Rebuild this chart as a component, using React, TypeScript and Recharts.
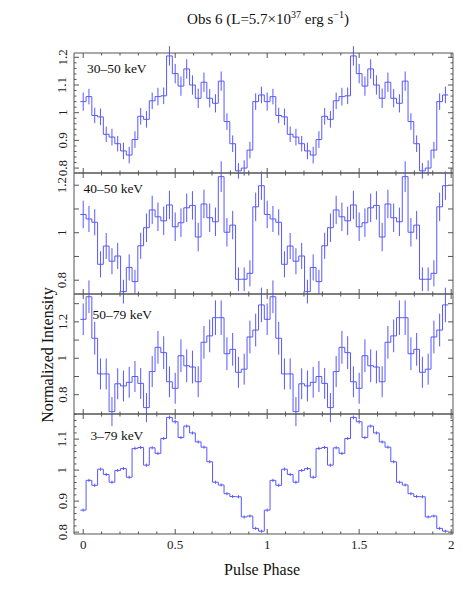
import React from 'react';
import { ComposedChart, Line, ErrorBar, XAxis, YAxis } from 'recharts';

// phase bin centres of one pulse cycle (32 bins), the profile is shown twice
const binCenters = [
  0, 0.03125, 0.0625, 0.09375, 0.125, 0.15625, 0.1875, 0.21875,
  0.25, 0.28125, 0.3125, 0.34375, 0.375, 0.40625, 0.4375, 0.46875,
  0.5, 0.53125, 0.5625, 0.59375, 0.625, 0.65625, 0.6875, 0.71875,
  0.75, 0.78125, 0.8125, 0.84375, 0.875, 0.90625, 0.9375, 0.96875,
];
const binHalf = 0.015625;

const band30to50 = [
  1.04, 1.058, 0.99, 0.985, 0.922, 0.912, 0.888, 0.862, 0.847, 0.903, 0.987, 0.976,
  1.043, 1.058, 1.061, 1.205, 1.141, 1.096, 1.158, 1.1, 1.052, 1.11, 1.052, 1.034,
  1.114, 0.968, 0.888, 0.79, 0.8, 0.865, 1.04, 1.064,
];
const err30to50 = [
  0.033, 0.028, 0.028, 0.03, 0.028, 0.03, 0.028, 0.03, 0.03, 0.03, 0.03, 0.03,
  0.03, 0.032, 0.03, 0.035, 0.035, 0.035, 0.035, 0.035, 0.035, 0.035, 0.033, 0.033,
  0.035, 0.03, 0.03, 0.028, 0.028, 0.03, 0.03, 0.03,
];

const band40to50 = [
  1.077, 1.058, 1.044, 0.867, 0.944, 0.88, 0.902, 0.752, 0.854, 0.794, 0.945, 1.021,
  1.096, 1.067, 1.05, 1.117, 1.025, 1.042, 1.105, 1.115, 0.982, 1.121, 1.063, 1.046,
  1.236, 1.002, 1.032, 0.804, 0.804, 0.829, 1.109, 1.198,
];
const err40to50 = [
  0.058, 0.055, 0.055, 0.055, 0.055, 0.055, 0.055, 0.05, 0.055, 0.05, 0.055, 0.06,
  0.06, 0.06, 0.06, 0.06, 0.06, 0.06, 0.06, 0.06, 0.06, 0.06, 0.06, 0.06,
  0.065, 0.06, 0.06, 0.05, 0.05, 0.055, 0.06, 0.06,
];

const band50to79 = [
  1.214, 1.338, 1.11, 0.914, 0.914, 0.707, 0.86, 0.848, 0.868, 0.9, 0.862, 0.729,
  0.927, 1.06, 1.031, 0.871, 0.835, 1.014, 0.959, 0.952, 0.871, 1.088, 1.123, 1.223,
  1.223, 1.025, 1.049, 0.923, 0.94, 1.117, 1.155, 1.293,
];
const err50to79 = [
  0.087, 0.09, 0.09, 0.085, 0.085, 0.08, 0.085, 0.085, 0.085, 0.085, 0.085, 0.08,
  0.085, 0.09, 0.09, 0.085, 0.085, 0.09, 0.09, 0.09, 0.085, 0.09, 0.09, 0.095,
  0.095, 0.09, 0.09, 0.085, 0.085, 0.09, 0.09, 0.095,
];

const band3to79 = [
  0.871, 0.967, 0.951, 1.003, 0.986, 0.961, 0.999, 1.005, 0.977, 1.07, 1.073, 1.016,
  1.072, 1.054, 1.102, 1.17, 1.156, 1.105, 1.142, 1.12, 1.091, 1.074, 1.027, 0.961,
  0.952, 0.924, 0.915, 0.914, 0.849, 0.852, 0.812, 0.803,
];
const err3to79 = [
  0.005, 0.005, 0.005, 0.005, 0.005, 0.005, 0.005, 0.005, 0.005, 0.005, 0.005, 0.005,
  0.005, 0.005, 0.005, 0.006, 0.006, 0.005, 0.005, 0.005, 0.005, 0.005, 0.005, 0.005,
  0.005, 0.005, 0.005, 0.005, 0.005, 0.005, 0.005, 0.005,
];

const xMajorTicks = [0, 0.5, 1, 1.5, 2];
const xMinorTicks = [
  0, 0.1, 0.2, 0.3, 0.4, 0.5, 0.6, 0.7, 0.8, 0.9, 1,
  1.1, 1.2, 1.3, 1.4, 1.5, 1.6, 1.7, 1.8, 1.9, 2,
];

const FONT = '"Liberation Serif", "Times New Roman", serif';
const FRAME = '#555';
const BLUE = '#5858ff';
const X_DOMAIN: [number, number] = [-0.05, 2.01];

const panels = [
  {
    label: '30–50 keV', labelX: 87, labelY: 73,
    values: band30to50, errors: err30to50,
    top: 53, bottom: 173, domain: [0.7823, 1.2155],
    ticks: [0.8, 0.82, 0.84, 0.86, 0.88, 0.9, 0.92, 0.94, 0.96, 0.98, 1, 1.02, 1.04, 1.06, 1.08, 1.1, 1.12, 1.14, 1.16, 1.18, 1.2],
    majors: [0.8, 0.9, 1, 1.1, 1.2], labels: [0.8, 0.9, 1, 1.1, 1.2],
  },
  {
    label: '40–50 keV', labelX: 83.5, labelY: 193,
    values: band40to50, errors: err40to50,
    top: 173, bottom: 294, domain: [0.742, 1.2514],
    ticks: [0.8, 0.9, 1, 1.1, 1.2],
    majors: [0.8, 0.9, 1, 1.1, 1.2], labels: [0.8, 1, 1.2],
  },
  {
    label: '50–79 keV', labelX: 92.5, labelY: 319,
    values: band50to79, errors: err50to79,
    top: 294, bottom: 414, domain: [0.694, 1.353],
    ticks: [0.8, 0.9, 1, 1.1, 1.2, 1.3],
    majors: [0.8, 0.9, 1, 1.1, 1.2, 1.3], labels: [0.8, 1, 1.2],
  },
  {
    label: '3–79 keV', labelX: 90.5, labelY: 440,
    values: band3to79, errors: err3to79,
    top: 414, bottom: 534, domain: [0.794, 1.181],
    ticks: [0.8, 0.82, 0.84, 0.86, 0.88, 0.9, 0.92, 0.94, 0.96, 0.98, 1, 1.02, 1.04, 1.06, 1.08, 1.1, 1.12, 1.14, 1.16, 1.18],
    majors: [0.8, 0.9, 1, 1.1], labels: [0.8, 0.9, 1, 1.1],
  },
];

const has = (list: number[], v: number) => list.some((m) => Math.abs(m - v) < 1e-6);

function stepData(values: number[]) {
  const pts: { x: number; y: number }[] = [];
  [0, 1].forEach((c) => {
    values.forEach((v, i) => pts.push({ x: binCenters[i] + c - binHalf, y: v }));
  });
  pts.push({ x: binCenters[binCenters.length - 1] + 1 + binHalf, y: values[values.length - 1] });
  return pts;
}

function errData(values: number[], errors: number[]) {
  const pts: { x: number; y: number; err: number }[] = [];
  [0, 1].forEach((c) => {
    values.forEach((v, i) => pts.push({ x: binCenters[i] + c, y: v, err: errors[i] }));
  });
  return pts;
}

const makeTick = (side: string, majors: number[], labels: number[]) => (props: any) => {
  const { x, y, payload } = props;
  const v = payload.value;
  const len = has(majors, v) ? 5 : 2.5;
  let line;
  let text = null;
  if (side === 'left') {
    line = <line x1={x} y1={y} x2={x + len} y2={y} stroke={FRAME} />;
    if (has(labels, v)) {
      const tx = x - 12;
      text = (
        <text x={tx} y={y} transform={`rotate(-90 ${tx} ${y})`} textAnchor="middle"
          dominantBaseline="central" fontFamily={FONT} fontSize={13} fill="#222">
          {String(v)}
        </text>
      );
    }
  } else if (side === 'right') {
    line = <line x1={x} y1={y} x2={x - len} y2={y} stroke={FRAME} />;
  } else if (side === 'top') {
    line = <line x1={x} y1={y} x2={x} y2={y + len} stroke={FRAME} />;
  } else {
    line = <line x1={x} y1={y} x2={x} y2={y - len} stroke={FRAME} />;
    if (has(labels, v)) {
      text = (
        <text x={x} y={y + 11} textAnchor="middle" dominantBaseline="central"
          fontFamily={FONT} fontSize={13} fill="#222">
          {String(v)}
        </text>
      );
    }
  }
  return (
    <g>
      {line}
      {text}
    </g>
  );
};

function Panel({ p, showX }: { p: any; showX: boolean }) {
  const steps = stepData(p.values);
  const errs = errData(p.values, p.errors);
  return (
    <div style={{ position: 'absolute', left: 0, top: 0 }}>
      <ComposedChart
        width={463}
        height={607}
        margin={{ top: p.top, bottom: 607 - p.bottom, left: 74, right: 10 }}
      >
        <XAxis xAxisId="b" type="number" dataKey="x" domain={X_DOMAIN} allowDataOverflow
          ticks={xMinorTicks} interval={0} height={0.01} tickSize={0} tickMargin={0}
          tickLine={false} stroke={FRAME}
          tick={makeTick('bottom', xMajorTicks, showX ? xMajorTicks : [])} />
        <XAxis xAxisId="t" orientation="top" type="number" dataKey="x" domain={X_DOMAIN} allowDataOverflow
          ticks={xMinorTicks} interval={0} height={0.01} tickSize={0} tickMargin={0}
          tickLine={false} stroke={FRAME} tick={makeTick('top', xMajorTicks, [])} />
        <YAxis yAxisId="l" type="number" domain={p.domain} allowDataOverflow
          ticks={p.ticks} interval={0} width={0.01} tickSize={0} tickMargin={0}
          tickLine={false} stroke={FRAME} tick={makeTick('left', p.majors, p.labels)} />
        <YAxis yAxisId="r" orientation="right" type="number" domain={p.domain} allowDataOverflow
          ticks={p.ticks} interval={0} width={0.01} tickSize={0} tickMargin={0}
          tickLine={false} stroke={FRAME} tick={makeTick('right', p.majors, [])} />
        <Line xAxisId="b" yAxisId="l" data={errs} dataKey="y" stroke="none" dot={false}
          activeDot={false} isAnimationActive={false}>
          <ErrorBar dataKey="err" direction="y" width={0} stroke={BLUE} strokeWidth={1}
            isAnimationActive={false} />
        </Line>
        <Line xAxisId="b" yAxisId="l" data={steps} dataKey="y" type="stepAfter" stroke={BLUE}
          strokeWidth={1} dot={false} activeDot={false} isAnimationActive={false} />
      </ComposedChart>
    </div>
  );
}

export default function App() {
  return (
    <div style={{ position: 'absolute', left: 0, top: 0, width: 463, height: 607, background: '#fff' }}>
      {panels.map((p, i) => (
        <Panel key={p.label} p={p} showX={i === panels.length - 1} />
      ))}
      <svg width={463} height={607} style={{ position: 'absolute', left: 0, top: 0, pointerEvents: 'none' }}>
        <text x={268} y={24} textAnchor="middle" fontFamily={FONT} fontSize={15} fill="#111">
          Obs 6 (L=5.7×10
          <tspan dy={-6} fontSize={10}>37</tspan>
          <tspan dy={6}> erg s</tspan>
          <tspan dy={-6} fontSize={10}>−1</tspan>
          <tspan dy={6}>)</tspan>
        </text>
        {panels.map((p) => (
          <text key={p.label} x={p.labelX} y={p.labelY} fontFamily={FONT} fontSize={13.5} fill="#111">
            {p.label}
          </text>
        ))}
        <text x={47} y={355} transform="rotate(-90 47 355)" textAnchor="middle"
          dominantBaseline="central" fontFamily={FONT} fontSize={16} fill="#111">
          Normalized Intensity
        </text>
        <text x={262} y={575} textAnchor="middle" fontFamily={FONT} fontSize={16} fill="#111">
          Pulse Phase
        </text>
      </svg>
    </div>
  );
}
